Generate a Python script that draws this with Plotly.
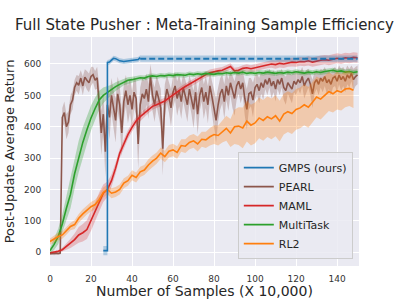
import plotly.graph_objects as go

# ---------------- data ----------------
pearl_x = list(range(0, 151))
pearl_mean = [-5, -4, -5, -3, -4, -3, 430, 445, 400, 415,
              470, 485, 525, 540, 532, 555, 530, 558, 548, 540,
              560, 566, 548, 556, 470, 380, 440, 320, 470, 430,
              500, 455, 420, 505, 470, 380, 480, 515, 470, 500,
              455, 510, 490, 345, 470, 505, 490, 520, 480, 560,
              500, 470, 515, 490, 460, 330, 480, 520, 495, 460,
              510, 530, 490, 515, 480, 525, 500, 470, 520, 490,
              455, 510, 440, 500, 525, 480, 510, 470, 530, 495,
              460, 420, 470, 505, 520, 480, 530, 500, 540, 510,
              490, 530, 545, 520, 540, 490, 455, 505, 510, 485,
              525, 535, 515, 540, 525, 550, 535, 555, 530, 545,
              520, 550, 535, 555, 525, 515, 540, 530, 520, 545,
              535, 550, 540, 560, 530, 545, 555, 535, 505, 540,
              550, 535, 555, 545, 560, 540, 550, 535, 555, 560,
              545, 565, 550, 560, 545, 565, 555, 570, 550, 560, 565]
pearl_std = [4, 4, 5, 4, 5, 5, 30, 35, 40, 35,
             30, 30, 25, 25, 30, 25, 30, 25, 30, 30,
             30, 25, 30, 35, 60, 70, 60, 80, 60, 70,
             55, 60, 70, 55, 60, 75, 55, 50, 60, 55,
             60, 50, 55, 80, 55, 50, 55, 50, 55, 40,
             50, 55, 50, 55, 60, 85, 55, 45, 50, 60,
             50, 45, 55, 50, 55, 45, 50, 55, 45, 50,
             60, 50, 65, 50, 45, 55, 50, 60, 45, 50,
             60, 70, 55, 50, 45, 55, 45, 50, 40, 50,
             55, 45, 40, 45, 40, 55, 65, 50, 45, 55,
             40, 35, 40, 35, 40, 30, 35, 30, 40, 35,
             40, 30, 35, 30, 40, 45, 35, 40, 45, 35,
             35, 30, 35, 30, 40, 35, 30, 35, 45, 35,
             30, 35, 30, 35, 30, 35, 30, 35, 30, 30,
             35, 30, 35, 30, 35, 30, 30, 25, 35, 30, 30]

maml_x = list(range(0, 151, 2))
maml_mean = [-2, 0, 3, 8, 18, 28, 40, 55, 62, 72,
             100, 128, 160, 188, 200, 228, 268, 315, 345, 375,
             398, 418, 432, 443, 455, 465, 470, 476, 482, 492,
             502, 510, 520, 528, 536, 543, 550, 560, 566, 572,
             576, 578, 580, 586, 592, 578, 580, 586, 588, 585,
             588, 592, 595, 598, 600, 598, 602, 600, 604, 606,
             605, 608, 607, 610, 606, 610, 612, 614, 612, 615,
             618, 616, 620, 618, 621, 620]
maml_std = [3, 3, 4, 6, 10, 15, 20, 25, 28, 30,
            32, 30, 30, 28, 25, 20, 18, 15, 15, 14,
            14, 13, 12, 12, 12, 11, 11, 10, 10, 10,
            10, 10, 10, 10, 10, 10, 10, 10, 10, 10,
            10, 10, 10, 10, 10, 10, 10, 10, 11, 11,
            11, 12, 12, 12, 12, 13, 13, 13, 13, 14,
            14, 14, 14, 15, 15, 15, 15, 15, 16, 16,
            16, 16, 16, 16, 16, 16]

multi_x = list(range(0, 151, 2))
multi_mean = [5, 25, 50, 90, 140, 185, 250, 305, 350, 390,
              428, 458, 485, 500, 510, 518, 528, 535, 542, 548,
              550, 553, 556, 555, 560, 562, 560, 563, 562, 565,
              563, 566, 565, 564, 568, 566, 569, 567, 570, 568,
              567, 570, 569, 572, 570, 573, 571, 574, 570, 572,
              570, 573, 571, 574, 572, 570, 573, 571, 574, 572,
              575, 573, 571, 574, 572, 575, 573, 576, 578, 580,
              576, 578, 574, 576, 573, 575]
multi_std = [8, 18, 25, 30, 38, 45, 48, 50, 48, 45,
             40, 35, 30, 25, 20, 16, 14, 12, 10, 10,
             9, 9, 8, 8, 8, 8, 8, 8, 8, 8,
             8, 8, 8, 8, 8, 8, 8, 8, 8, 8,
             8, 8, 8, 8, 8, 8, 8, 8, 8, 8,
             8, 8, 8, 8, 8, 8, 8, 8, 8, 8,
             8, 8, 8, 8, 8, 8, 8, 8, 8, 8,
             8, 8, 8, 8, 8, 8]

rl2_x = list(range(0, 149, 2))
rl2_mean = [34, 42, 50, 55, 68, 82, 88, 108, 122, 135,
            145, 152, 168, 190, 200, 188, 192, 200, 220, 228,
            245, 238, 256, 262, 278, 290, 300, 316, 305, 322,
            326, 318, 340, 338, 350, 355, 345, 360, 358, 368,
            375, 372, 385, 395, 380, 400, 402, 396, 418, 405,
            412, 428, 420, 432, 425, 435, 418, 440, 448, 442,
            455, 460, 470, 462, 478, 495, 488, 500, 512, 505,
            515, 510, 520, 522, 516]
rl2_std = [10, 10, 12, 12, 12, 12, 14, 14, 15, 15,
           15, 15, 16, 16, 16, 16, 16, 16, 16, 16,
           16, 16, 16, 16, 18, 18, 18, 18, 18, 20,
           20, 20, 20, 22, 22, 22, 24, 24, 26, 28,
           30, 32, 35, 40, 45, 55, 60, 65, 65, 65,
           65, 65, 65, 65, 65, 65, 65, 65, 65, 65,
           65, 65, 65, 65, 65, 65, 65, 65, 62, 60,
           60, 58, 58, 56, 56]

gmps_x = [26, 27, 28, 28, 29, 30, 31, 32, 33, 34, 36, 38, 40, 42, 43, 44]
gmps_mean = [5, 5, 5, 605, 606, 612, 618, 617, 614, 610, 608, 610, 612, 613, 614, 620]
gmps_std = [15, 15, 15, 8, 8, 8, 8, 8, 8, 8, 8, 8, 8, 8, 8, 8]

asym_x = [44, 150]
asym_mean = [617, 617]
asym_std = [10, 10]

colors = {"GMPS (ours)": "#1f77b4", "PEARL": "#8c564b", "MAML": "#d62728",
          "MultiTask": "#2ca02c", "RL2": "#ff7f0e"}
band_colors = {"GMPS (ours)": "rgba(31,119,180,0.3)", "PEARL": "rgba(140,86,75,0.3)",
               "MAML": "rgba(214,39,40,0.25)", "MultiTask": "rgba(44,160,44,0.3)",
               "RL2": "rgba(255,127,14,0.3)"}

x_ticks = [0, 20, 40, 60, 80, 100, 120, 140]
y_ticks = [0, 100, 200, 300, 400, 500, 600]

fig = go.Figure()


def add_band(x, mean, std, name):
    upper = [m + s for m, s in zip(mean, std)]
    lower = [m - s for m, s in zip(mean, std)]
    fig.add_trace(go.Scatter(x=list(x) + list(x)[::-1], y=upper + lower[::-1],
                             fill="toself", fillcolor=band_colors[name],
                             line=dict(width=0), mode="lines",
                             showlegend=False, hoverinfo="skip"))


def add_line(x, mean, name, rank, dash="solid", legend=True, width=1.6):
    fig.add_trace(go.Scatter(x=x, y=mean, mode="lines", name=name,
                             line=dict(color=colors[name], width=width, dash=dash),
                             showlegend=legend, legendrank=rank))


add_band(pearl_x, pearl_mean, pearl_std, "PEARL")
add_line(pearl_x, pearl_mean, "PEARL", 2)
add_band(maml_x, maml_mean, maml_std, "MAML")
add_line(maml_x, maml_mean, "MAML", 3)
add_band(multi_x, multi_mean, multi_std, "MultiTask")
add_line(multi_x, multi_mean, "MultiTask", 4)
add_band(rl2_x, rl2_mean, rl2_std, "RL2")
add_line(rl2_x, rl2_mean, "RL2", 5)
add_band(gmps_x, gmps_mean, gmps_std, "GMPS (ours)")
add_band(asym_x, asym_mean, asym_std, "GMPS (ours)")
add_line(gmps_x, gmps_mean, "GMPS (ours)", 1)
add_line(asym_x, asym_mean, "GMPS (ours)", 6, dash="6px,3px", legend=False, width=2)

axis_font = dict(family="DejaVu Sans", size=9, color="#333333")
fig.update_layout(
    width=399, height=299, autosize=False,
    margin=dict(l=50, r=40, t=37, b=33, autoexpand=False),
    paper_bgcolor="white", plot_bgcolor="#EAEAF2",
    font=dict(family="DejaVu Sans", color="#262626"),
    title=dict(text="Full State Pusher : Meta-Training Sample Efficiency",
               x=0.5, xref="paper", xanchor="center",
               y=1 - 25 / 299, yref="container", yanchor="middle",
               automargin=False,
               font=dict(family="DejaVu Sans", size=15, color="#262626")),
    xaxis=dict(range=[0, 150.7], tickvals=x_ticks, showgrid=True, gridcolor="white",
               gridwidth=1, zeroline=False, showline=False,
               ticks="outside", ticklen=4, tickcolor="rgba(0,0,0,0)",
               tickfont=axis_font, automargin=False,
               title=dict(text="Number of Samples (X 10,000)", standoff=2,
                          font=dict(family="DejaVu Sans", size=14, color="#262626"))),
    yaxis=dict(range=[-44, 686], tickvals=y_ticks, showgrid=True, gridcolor="white",
               gridwidth=1, zeroline=False, showline=False,
               ticks="outside", ticklen=6, tickcolor="rgba(0,0,0,0)",
               tickfont=axis_font, automargin=False,
               title=dict(text="Post-Update Average Return", standoff=6,
                          font=dict(family="DejaVu Sans", size=13, color="#262626"))),
    legend=dict(x=0.98, y=0.03, xanchor="right", yanchor="bottom",
                bgcolor="rgba(234,234,242,0.85)", bordercolor="#cccccc", borderwidth=1,
                font=dict(family="DejaVu Sans", size=11, color="#262626"),
                tracegroupgap=0, itemwidth=30),
    showlegend=True,
)

fig.write_html("out.html", config={"displayModeBar": False},
               post_script="document.body.style.margin='0px';document.body.style.padding='0px';")
